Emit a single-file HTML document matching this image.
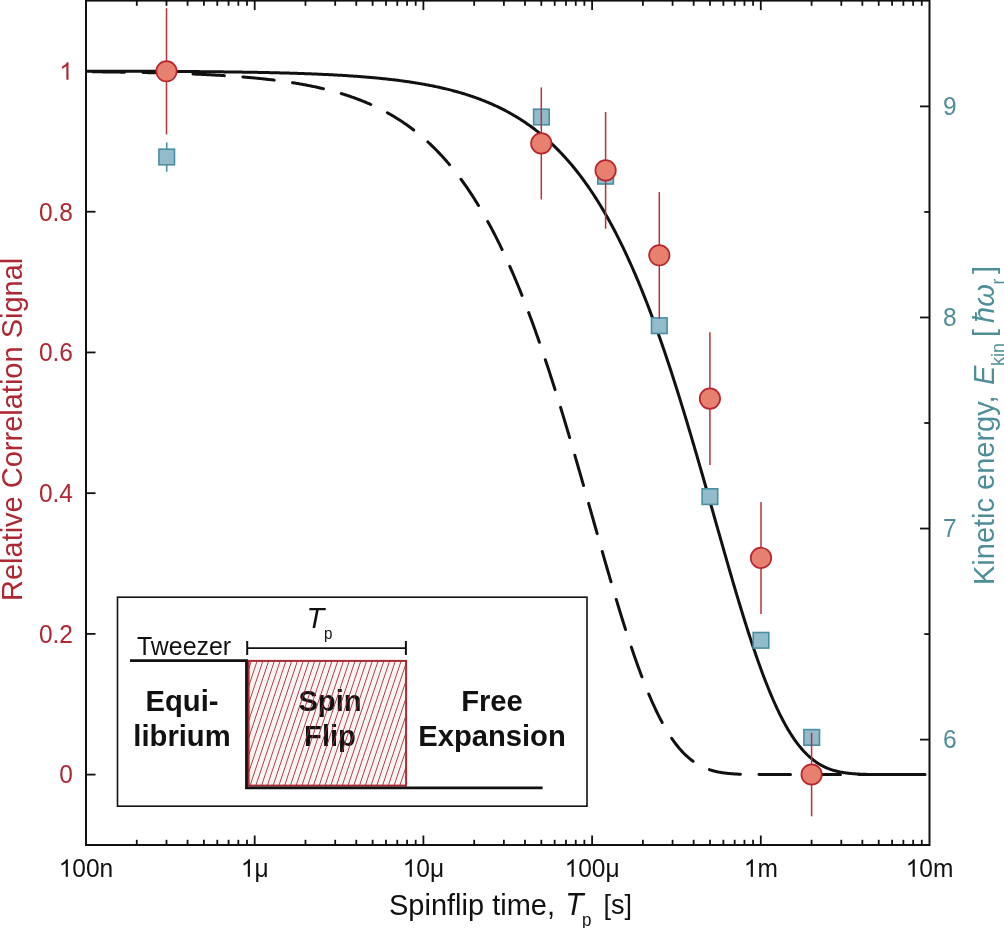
<!DOCTYPE html>
<html><head><meta charset="utf-8"><style>
html,body{margin:0;padding:0;background:#fff;}
svg{display:block;will-change:transform;}
text{font-family:"Liberation Sans",sans-serif;}
</style></head><body>
<svg width="1004" height="928" viewBox="0 0 1004 928">
<defs>
<pattern id="hatch" patternUnits="userSpaceOnUse" width="5.76" height="16" patternTransform="translate(248,661) skewX(-18.47)">
<line x1="3.34" y1="-1" x2="3.34" y2="17" stroke="#9c2f3b" stroke-width="0.9"/>
</pattern>
</defs>
<rect width="1004" height="928" fill="#fff"/>
<rect x="117.5" y="597.2" width="469.5" height="209" fill="none" stroke="#111" stroke-width="1.6"/>
<rect x="248.6" y="660.9" width="157.5" height="124.7" fill="#fff4f4"/>
<g font-size="29.2" font-weight="bold" fill="#111" text-anchor="middle"><text x="182.00" y="711.30" transform="matrix(1 0 0 1.04 0 -28.452)">Equi-</text><text x="182.00" y="746.30" transform="matrix(1 0 0 1.04 0 -29.852)">librium</text><text x="330.00" y="711.30" transform="matrix(1 0 0 1.04 0 -28.452)">Spin</text><text x="330.00" y="746.30" transform="matrix(1 0 0 1.04 0 -29.852)">Flip</text><text x="492.00" y="711.30" transform="matrix(1 0 0 1.04 0 -28.452)">Free</text><text x="492.00" y="746.30" transform="matrix(1 0 0 1.04 0 -29.852)">Expansion</text></g>
<rect x="248.6" y="660.9" width="157.5" height="124.7" fill="url(#hatch)" stroke="#a82a32" stroke-width="2"/>
<polyline points="130,660.7 246.5,660.7 246.5,787.9 542.6,787.9" fill="none" stroke="#111" stroke-width="2.8"/>
<g stroke="#111" stroke-width="1.6">
<line x1="247.2" y1="641" x2="247.2" y2="655" stroke-width="2"/>
<line x1="405.9" y1="641" x2="405.9" y2="655" stroke-width="2"/>
<line x1="247.2" y1="648.1" x2="405.9" y2="648.1"/>
</g>
<g font-size="24.9" fill="#111"><text x="137.00" y="654.80" transform="matrix(1 0 0 1.04 0 -26.192)">Tweezer</text></g>
<g fill="#111"><text x="306.50" y="628.50" transform="matrix(1 0 0 1.04 0 -25.140)" font-size="29" font-style="italic">T</text><text x="324.00" y="638.80" transform="matrix(1 0 0 1.04 0 -25.552)" font-size="15.2">p</text></g>
<path d="M87.00,71.71 L88.00,71.72 L89.00,71.73 L90.00,71.74 L91.00,71.75 L92.00,71.76 L93.00,71.77 L94.00,71.78 L95.00,71.80 L96.00,71.81 L97.00,71.82 L98.00,71.83 L99.00,71.84 L100.00,71.85 L101.00,71.86 L102.00,71.87 L103.00,71.89 L104.00,71.90 L105.00,71.91 L106.00,71.92 L107.00,71.94 L108.00,71.95 L109.00,71.96 L110.00,71.98 L111.00,71.99 L112.00,72.00 L113.00,72.02 L114.00,72.03 L115.00,72.04 L116.00,72.06 L117.00,72.07 L118.00,72.09 L119.00,72.10 L120.00,72.12 L121.00,72.13 L122.00,72.15 L123.00,72.16 L124.00,72.18 L125.00,72.20 L126.00,72.21 L127.00,72.23 L128.00,72.25 L129.00,72.26 L130.00,72.28 L131.00,72.30 L132.00,72.32 L133.00,72.34 L134.00,72.35 L135.00,72.37 L136.00,72.39 L137.00,72.41 L138.00,72.43 L139.00,72.45 L140.00,72.47 L141.00,72.49 L142.00,72.51 L143.00,72.53 L144.00,72.55 L145.00,72.57 L146.00,72.59 L147.00,72.62 L148.00,72.64 L149.00,72.66 L150.00,72.68 L151.00,72.71 L152.00,72.73 L153.00,72.75 L154.00,72.78 L155.00,72.80 L156.00,72.83 L157.00,72.85 L158.00,72.88 L159.00,72.90 L160.00,72.93 L161.00,72.96 L162.00,72.98 L163.00,73.01 L164.00,73.04 L165.00,73.07 L166.00,73.09 L167.00,73.12 L168.00,73.15 L169.00,73.18 L170.00,73.21 L171.00,73.24 L172.00,73.27 L173.00,73.30 L174.00,73.33 L175.00,73.37 L176.00,73.40 L177.00,73.43 L178.00,73.47 L179.00,73.50 L180.00,73.53 L181.00,73.57 L182.00,73.60 L183.00,73.64 L184.00,73.68 L185.00,73.71 L186.00,73.75 L187.00,73.79 L188.00,73.83 L189.00,73.86 L190.00,73.90 L191.00,73.94 L192.00,73.98 L193.00,74.02 L194.00,74.07 L195.00,74.11 L196.00,74.15 L197.00,74.19 L198.00,74.24 L199.00,74.28 L200.00,74.33 L201.00,74.37 L202.00,74.42 L203.00,74.47 L204.00,74.51 L205.00,74.56 L206.00,74.61 L207.00,74.66 L208.00,74.71 L209.00,74.76 L210.00,74.81 L211.00,74.86 L212.00,74.92 L213.00,74.97 L214.00,75.03 L215.00,75.08 L216.00,75.14 L217.00,75.19 L218.00,75.25 L219.00,75.31 L220.00,75.37 L221.00,75.43 L222.00,75.49 L223.00,75.55 L224.00,75.61 L225.00,75.68 L226.00,75.74 L227.00,75.80 L228.00,75.87 L229.00,75.94 L230.00,76.00 L231.00,76.07 L232.00,76.14 L233.00,76.21 L234.00,76.28 L235.00,76.36 L236.00,76.43 L237.00,76.50 L238.00,76.58 L239.00,76.66 L240.00,76.73 L241.00,76.81 L242.00,76.89 L243.00,76.97 L244.00,77.05 L245.00,77.14 L246.00,77.22 L247.00,77.31 L248.00,77.39 L249.00,77.48 L250.00,77.57 L251.00,77.66 L252.00,77.75 L253.00,77.84 L254.00,77.93 L255.00,78.03 L256.00,78.13 L257.00,78.22 L258.00,78.32 L259.00,78.42 L260.00,78.52 L261.00,78.63 L262.00,78.73 L263.00,78.84 L264.00,78.94 L265.00,79.05 L266.00,79.16 L267.00,79.27 L268.00,79.39 L269.00,79.50 L270.00,79.62 L271.00,79.73 L272.00,79.85 L273.00,79.97 L274.00,80.10 L275.00,80.22 L276.00,80.35 L277.00,80.47 L278.00,80.60 L279.00,80.74 L280.00,80.87 L281.00,81.00 L282.00,81.14 L283.00,81.28 L284.00,81.42 L285.00,81.56 L286.00,81.70 L287.00,81.85 L288.00,82.00 L289.00,82.15 L290.00,82.30 L291.00,82.45 L292.00,82.61 L293.00,82.77 L294.00,82.93 L295.00,83.09 L296.00,83.26 L297.00,83.42 L298.00,83.59 L299.00,83.76 L300.00,83.94 L301.00,84.11 L302.00,84.29 L303.00,84.47 L304.00,84.66 L305.00,84.84 L306.00,85.03 L307.00,85.22 L308.00,85.41 L309.00,85.61 L310.00,85.81 L311.00,86.01 L312.00,86.21 L313.00,86.42 L314.00,86.63 L315.00,86.84 L316.00,87.06 L317.00,87.28 L318.00,87.50 L319.00,87.72 L320.00,87.95 L321.00,88.18 L322.00,88.41 L323.00,88.65 L324.00,88.89 L325.00,89.13 L326.00,89.38 L327.00,89.62 L328.00,89.88 L329.00,90.13 L330.00,90.39 L331.00,90.65 L332.00,90.92 L333.00,91.19 L334.00,91.46 L335.00,91.74 L336.00,92.02 L337.00,92.31 L338.00,92.59 L339.00,92.89 L340.00,93.18 L341.00,93.48 L342.00,93.79 L343.00,94.09 L344.00,94.41 L345.00,94.72 L346.00,95.04 L347.00,95.37 L348.00,95.70 L349.00,96.03 L350.00,96.37 L351.00,96.71 L352.00,97.06 L353.00,97.41 L354.00,97.76 L355.00,98.12 L356.00,98.49 L357.00,98.86 L358.00,99.24 L359.00,99.62 L360.00,100.00 L361.00,100.39 L362.00,100.79 L363.00,101.19 L364.00,101.59 L365.00,102.00 L366.00,102.42 L367.00,102.84 L368.00,103.27 L369.00,103.70 L370.00,104.14 L371.00,104.58 L372.00,105.03 L373.00,105.49 L374.00,105.95 L375.00,106.42 L376.00,106.89 L377.00,107.38 L378.00,107.86 L379.00,108.35 L380.00,108.85 L381.00,109.36 L382.00,109.87 L383.00,110.39 L384.00,110.92 L385.00,111.45 L386.00,111.99 L387.00,112.53 L388.00,113.09 L389.00,113.65 L390.00,114.22 L391.00,114.79 L392.00,115.37 L393.00,115.96 L394.00,116.56 L395.00,117.17 L396.00,117.78 L397.00,118.40 L398.00,119.03 L399.00,119.67 L400.00,120.31 L401.00,120.96 L402.00,121.62 L403.00,122.29 L404.00,122.97 L405.00,123.66 L406.00,124.35 L407.00,125.06 L408.00,125.77 L409.00,126.49 L410.00,127.23 L411.00,127.97 L412.00,128.72 L413.00,129.48 L414.00,130.24 L415.00,131.02 L416.00,131.81 L417.00,132.61 L418.00,133.42 L419.00,134.23 L420.00,135.06 L421.00,135.90 L422.00,136.75 L423.00,137.61 L424.00,138.48 L425.00,139.36 L426.00,140.25 L427.00,141.15 L428.00,142.07 L429.00,142.99 L430.00,143.93 L431.00,144.88 L432.00,145.84 L433.00,146.81 L434.00,147.79 L435.00,148.78 L436.00,149.79 L437.00,150.81 L438.00,151.84 L439.00,152.89 L440.00,153.94 L441.00,155.01 L442.00,156.09 L443.00,157.19 L444.00,158.29 L445.00,159.42 L446.00,160.55 L447.00,161.70 L448.00,162.86 L449.00,164.03 L450.00,165.22 L451.00,166.43 L452.00,167.64 L453.00,168.87 L454.00,170.12 L455.00,171.38 L456.00,172.65 L457.00,173.94 L458.00,175.25 L459.00,176.57 L460.00,177.90 L461.00,179.25 L462.00,180.62 L463.00,182.00 L464.00,183.39 L465.00,184.81 L466.00,186.23 L467.00,187.68 L468.00,189.14 L469.00,190.62 L470.00,192.11 L471.00,193.62 L472.00,195.15 L473.00,196.69 L474.00,198.25 L475.00,199.83 L476.00,201.43 L477.00,203.04 L478.00,204.67 L479.00,206.32 L480.00,207.98 L481.00,209.67 L482.00,211.37 L483.00,213.09 L484.00,214.82 L485.00,216.58 L486.00,218.36 L487.00,220.15 L488.00,221.96 L489.00,223.79 L490.00,225.64 L491.00,227.51 L492.00,229.40 L493.00,231.31 L494.00,233.24 L495.00,235.18 L496.00,237.15 L497.00,239.13 L498.00,241.14 L499.00,243.17 L500.00,245.21 L501.00,247.28 L502.00,249.36 L503.00,251.47 L504.00,253.59 L505.00,255.74 L506.00,257.91 L507.00,260.10 L508.00,262.30 L509.00,264.53 L510.00,266.78 L511.00,269.05 L512.00,271.35 L513.00,273.66 L514.00,275.99 L515.00,278.35 L516.00,280.72 L517.00,283.12 L518.00,285.53 L519.00,287.97 L520.00,290.43 L521.00,292.91 L522.00,295.41 L523.00,297.94 L524.00,300.48 L525.00,303.05 L526.00,305.63 L527.00,308.24 L528.00,310.87 L529.00,313.52 L530.00,316.19 L531.00,318.88 L532.00,321.59 L533.00,324.32 L534.00,327.08 L535.00,329.85 L536.00,332.65 L537.00,335.46 L538.00,338.30 L539.00,341.15 L540.00,344.03 L541.00,346.93 L542.00,349.84 L543.00,352.78 L544.00,355.73 L545.00,358.71 L546.00,361.70 L547.00,364.71 L548.00,367.75 L549.00,370.80 L550.00,373.87 L551.00,376.96 L552.00,380.06 L553.00,383.19 L554.00,386.33 L555.00,389.49 L556.00,392.66 L557.00,395.86 L558.00,399.07 L559.00,402.29 L560.00,405.54 L561.00,408.79 L562.00,412.07 L563.00,415.36 L564.00,418.66 L565.00,421.98 L566.00,425.31 L567.00,428.65 L568.00,432.01 L569.00,435.39 L570.00,438.77 L571.00,442.17 L572.00,445.57 L573.00,448.99 L574.00,452.42 L575.00,455.86 L576.00,459.31 L577.00,462.77 L578.00,466.24 L579.00,469.71 L580.00,473.20 L581.00,476.69 L582.00,480.19 L583.00,483.69 L584.00,487.20 L585.00,490.71 L586.00,494.23 L587.00,497.76 L588.00,501.28 L589.00,504.81 L590.00,508.34 L591.00,511.87 L592.00,515.41 L593.00,518.94 L594.00,522.47 L595.00,526.00 L596.00,529.53 L597.00,533.06 L598.00,536.58 L599.00,540.10 L600.00,543.61 L601.00,547.12 L602.00,550.63 L603.00,554.12 L604.00,557.61 L605.00,561.09 L606.00,564.56 L607.00,568.02 L608.00,571.47 L609.00,574.91 L610.00,578.34 L611.00,581.75 L612.00,585.15 L613.00,588.53 L614.00,591.91 L615.00,595.26 L616.00,598.60 L617.00,601.92 L618.00,605.22 L619.00,608.50 L620.00,611.76 L621.00,615.01 L622.00,618.23 L623.00,621.43 L624.00,624.60 L625.00,627.75 L626.00,630.88 L627.00,633.99 L628.00,637.06 L629.00,640.11 L630.00,643.14 L631.00,646.13 L632.00,649.10 L633.00,652.04 L634.00,654.95 L635.00,657.83 L636.00,660.67 L637.00,663.49 L638.00,666.27 L639.00,669.02 L640.00,671.74 L641.00,674.42 L642.00,677.07 L643.00,679.68 L644.00,682.26 L645.00,684.80 L646.00,687.30 L647.00,689.77 L648.00,692.20 L649.00,694.60 L650.00,696.95 L651.00,699.27 L652.00,701.55 L653.00,703.78 L654.00,705.98 L655.00,708.14 L656.00,710.26 L657.00,712.35 L658.00,714.39 L659.00,716.39 L660.00,718.35 L661.00,720.27 L662.00,722.14 L663.00,723.98 L664.00,725.78 L665.00,727.54 L666.00,729.26 L667.00,730.93 L668.00,732.57 L669.00,734.17 L670.00,735.72 L671.00,737.24 L672.00,738.72 L673.00,740.15 L674.00,741.55 L675.00,742.91 L676.00,744.23 L677.00,745.52 L678.00,746.76 L679.00,747.97 L680.00,749.14 L681.00,750.28 L682.00,751.38 L683.00,752.44 L684.00,753.47 L685.00,754.46 L686.00,755.42 L687.00,756.35 L688.00,757.24 L689.00,758.10 L690.00,758.93 L691.00,759.73 L692.00,760.50 L693.00,761.24 L694.00,761.95 L695.00,762.63 L696.00,763.28 L697.00,763.90 L698.00,764.50 L699.00,765.07 L700.00,765.62 L701.00,766.14 L702.00,766.64 L703.00,767.12 L704.00,767.57 L705.00,768.00 L706.00,768.41 L707.00,768.80 L708.00,769.17 L709.00,769.52 L710.00,769.85 L711.00,770.17 L712.00,770.47 L713.00,770.75 L714.00,771.01 L715.00,771.27 L716.00,771.50 L717.00,771.72 L718.00,771.93 L719.00,772.13 L720.00,772.32 L721.00,772.49 L722.00,772.65 L723.00,772.80 L724.00,772.94 L725.00,773.08 L726.00,773.20 L727.00,773.31 L728.00,773.42 L729.00,773.52 L730.00,773.61 L731.00,773.70 L732.00,773.78 L733.00,773.85 L734.00,773.92 L735.00,773.98 L736.00,774.04 L737.00,774.09 L738.00,774.14 L739.00,774.18 L740.00,774.22 L741.00,774.26 L742.00,774.29 L743.00,774.32 L744.00,774.35 L745.00,774.38 L746.00,774.40 L747.00,774.42 L748.00,774.44 L749.00,774.46 L750.00,774.47 L751.00,774.49 L752.00,774.50 L753.00,774.51 L754.00,774.52 L755.00,774.53 L756.00,774.54 L757.00,774.55 L758.00,774.55 L759.00,774.56 L760.00,774.56 L761.00,774.57 L762.00,774.57 L763.00,774.58 L764.00,774.58 L765.00,774.58 L766.00,774.58 L767.00,774.59 L768.00,774.59 L769.00,774.59 L770.00,774.59 L771.00,774.59 L772.00,774.59 L773.00,774.59 L774.00,774.60 L775.00,774.60 L776.00,774.60 L777.00,774.60 L778.00,774.60 L779.00,774.60 L780.00,774.60 L781.00,774.60 L782.00,774.60 L783.00,774.60 L784.00,774.60 L785.00,774.60 L786.00,774.60 L787.00,774.60 L788.00,774.60 L789.00,774.60 L790.00,774.60 L791.00,774.60 L792.00,774.60 L793.00,774.60 L794.00,774.60 L795.00,774.60 L796.00,774.60 L797.00,774.60 L798.00,774.60 L799.00,774.60 L800.00,774.60 L801.00,774.60 L802.00,774.60 L803.00,774.60 L804.00,774.60 L805.00,774.60 L806.00,774.60 L807.00,774.60 L808.00,774.60 L809.00,774.60 L810.00,774.60 L811.00,774.60 L812.00,774.60 L813.00,774.60 L814.00,774.60 L815.00,774.60 L816.00,774.60 L817.00,774.60 L818.00,774.60 L819.00,774.60 L820.00,774.60 L821.00,774.60 L822.00,774.60 L823.00,774.60 L824.00,774.60 L825.00,774.60 L826.00,774.60 L827.00,774.60 L828.00,774.60 L829.00,774.60 L830.00,774.60 L831.00,774.60 L832.00,774.60 L833.00,774.60 L834.00,774.60 L835.00,774.60 L836.00,774.60 L837.00,774.60 L838.00,774.60 L839.00,774.60 L840.00,774.60 L841.00,774.60 L842.00,774.60 L843.00,774.60 L844.00,774.60 L845.00,774.60 L846.00,774.60 L847.00,774.60 L848.00,774.60 L849.00,774.60 L850.00,774.60 L851.00,774.60 L852.00,774.60 L853.00,774.60 L854.00,774.60 L855.00,774.60 L856.00,774.60 L857.00,774.60 L858.00,774.60 L859.00,774.60 L860.00,774.60 L861.00,774.60 L862.00,774.60 L863.00,774.60 L864.00,774.60 L865.00,774.60 L866.00,774.60 L867.00,774.60 L868.00,774.60 L869.00,774.60 L870.00,774.60 L871.00,774.60 L872.00,774.60 L873.00,774.60 L874.00,774.60 L875.00,774.60 L876.00,774.60 L877.00,774.60 L878.00,774.60 L879.00,774.60 L880.00,774.60 L881.00,774.60 L882.00,774.60 L883.00,774.60 L884.00,774.60 L885.00,774.60 L886.00,774.60 L887.00,774.60 L888.00,774.60 L889.00,774.60 L890.00,774.60 L891.00,774.60 L892.00,774.60 L893.00,774.60 L894.00,774.60 L895.00,774.60 L896.00,774.60 L897.00,774.60 L898.00,774.60 L899.00,774.60 L900.00,774.60 L901.00,774.60 L902.00,774.60 L903.00,774.60 L904.00,774.60 L905.00,774.60 L906.00,774.60 L907.00,774.60 L908.00,774.60 L909.00,774.60 L910.00,774.60 L911.00,774.60 L912.00,774.60 L913.00,774.60 L914.00,774.60 L915.00,774.60 L916.00,774.60 L917.00,774.60 L918.00,774.60 L919.00,774.60 L920.00,774.60 L921.00,774.60 L922.00,774.60 L923.00,774.60 L924.00,774.60 L925.00,774.60" fill="none" stroke="#111" stroke-width="3" stroke-dasharray="31.5 18.5" stroke-dashoffset="44" stroke-linecap="round"/>
<path d="M87.00,71.14 L88.00,71.14 L89.00,71.14 L90.00,71.14 L91.00,71.14 L92.00,71.14 L93.00,71.15 L94.00,71.15 L95.00,71.15 L96.00,71.15 L97.00,71.15 L98.00,71.16 L99.00,71.16 L100.00,71.16 L101.00,71.16 L102.00,71.17 L103.00,71.17 L104.00,71.17 L105.00,71.17 L106.00,71.18 L107.00,71.18 L108.00,71.18 L109.00,71.18 L110.00,71.18 L111.00,71.19 L112.00,71.19 L113.00,71.19 L114.00,71.20 L115.00,71.20 L116.00,71.20 L117.00,71.20 L118.00,71.21 L119.00,71.21 L120.00,71.21 L121.00,71.21 L122.00,71.22 L123.00,71.22 L124.00,71.22 L125.00,71.23 L126.00,71.23 L127.00,71.23 L128.00,71.24 L129.00,71.24 L130.00,71.24 L131.00,71.25 L132.00,71.25 L133.00,71.25 L134.00,71.26 L135.00,71.26 L136.00,71.26 L137.00,71.27 L138.00,71.27 L139.00,71.27 L140.00,71.28 L141.00,71.28 L142.00,71.29 L143.00,71.29 L144.00,71.29 L145.00,71.30 L146.00,71.30 L147.00,71.31 L148.00,71.31 L149.00,71.31 L150.00,71.32 L151.00,71.32 L152.00,71.33 L153.00,71.33 L154.00,71.34 L155.00,71.34 L156.00,71.35 L157.00,71.35 L158.00,71.36 L159.00,71.36 L160.00,71.37 L161.00,71.37 L162.00,71.38 L163.00,71.38 L164.00,71.39 L165.00,71.39 L166.00,71.40 L167.00,71.40 L168.00,71.41 L169.00,71.41 L170.00,71.42 L171.00,71.43 L172.00,71.43 L173.00,71.44 L174.00,71.44 L175.00,71.45 L176.00,71.46 L177.00,71.46 L178.00,71.47 L179.00,71.47 L180.00,71.48 L181.00,71.49 L182.00,71.49 L183.00,71.50 L184.00,71.51 L185.00,71.51 L186.00,71.52 L187.00,71.53 L188.00,71.54 L189.00,71.54 L190.00,71.55 L191.00,71.56 L192.00,71.57 L193.00,71.57 L194.00,71.58 L195.00,71.59 L196.00,71.60 L197.00,71.61 L198.00,71.61 L199.00,71.62 L200.00,71.63 L201.00,71.64 L202.00,71.65 L203.00,71.66 L204.00,71.67 L205.00,71.68 L206.00,71.69 L207.00,71.69 L208.00,71.70 L209.00,71.71 L210.00,71.72 L211.00,71.73 L212.00,71.74 L213.00,71.75 L214.00,71.76 L215.00,71.77 L216.00,71.79 L217.00,71.80 L218.00,71.81 L219.00,71.82 L220.00,71.83 L221.00,71.84 L222.00,71.85 L223.00,71.86 L224.00,71.88 L225.00,71.89 L226.00,71.90 L227.00,71.91 L228.00,71.92 L229.00,71.94 L230.00,71.95 L231.00,71.96 L232.00,71.98 L233.00,71.99 L234.00,72.00 L235.00,72.02 L236.00,72.03 L237.00,72.05 L238.00,72.06 L239.00,72.07 L240.00,72.09 L241.00,72.10 L242.00,72.12 L243.00,72.13 L244.00,72.15 L245.00,72.17 L246.00,72.18 L247.00,72.20 L248.00,72.22 L249.00,72.23 L250.00,72.25 L251.00,72.27 L252.00,72.28 L253.00,72.30 L254.00,72.32 L255.00,72.34 L256.00,72.36 L257.00,72.37 L258.00,72.39 L259.00,72.41 L260.00,72.43 L261.00,72.45 L262.00,72.47 L263.00,72.49 L264.00,72.51 L265.00,72.53 L266.00,72.55 L267.00,72.57 L268.00,72.60 L269.00,72.62 L270.00,72.64 L271.00,72.66 L272.00,72.69 L273.00,72.71 L274.00,72.73 L275.00,72.76 L276.00,72.78 L277.00,72.80 L278.00,72.83 L279.00,72.85 L280.00,72.88 L281.00,72.91 L282.00,72.93 L283.00,72.96 L284.00,72.98 L285.00,73.01 L286.00,73.04 L287.00,73.07 L288.00,73.10 L289.00,73.12 L290.00,73.15 L291.00,73.18 L292.00,73.21 L293.00,73.24 L294.00,73.27 L295.00,73.31 L296.00,73.34 L297.00,73.37 L298.00,73.40 L299.00,73.44 L300.00,73.47 L301.00,73.50 L302.00,73.54 L303.00,73.57 L304.00,73.61 L305.00,73.64 L306.00,73.68 L307.00,73.72 L308.00,73.75 L309.00,73.79 L310.00,73.83 L311.00,73.87 L312.00,73.91 L313.00,73.95 L314.00,73.99 L315.00,74.03 L316.00,74.07 L317.00,74.11 L318.00,74.15 L319.00,74.20 L320.00,74.24 L321.00,74.29 L322.00,74.33 L323.00,74.38 L324.00,74.42 L325.00,74.47 L326.00,74.52 L327.00,74.57 L328.00,74.61 L329.00,74.66 L330.00,74.71 L331.00,74.77 L332.00,74.82 L333.00,74.87 L334.00,74.92 L335.00,74.98 L336.00,75.03 L337.00,75.09 L338.00,75.14 L339.00,75.20 L340.00,75.26 L341.00,75.31 L342.00,75.37 L343.00,75.43 L344.00,75.49 L345.00,75.56 L346.00,75.62 L347.00,75.68 L348.00,75.75 L349.00,75.81 L350.00,75.88 L351.00,75.94 L352.00,76.01 L353.00,76.08 L354.00,76.15 L355.00,76.22 L356.00,76.29 L357.00,76.36 L358.00,76.44 L359.00,76.51 L360.00,76.59 L361.00,76.66 L362.00,76.74 L363.00,76.82 L364.00,76.90 L365.00,76.98 L366.00,77.06 L367.00,77.14 L368.00,77.23 L369.00,77.31 L370.00,77.40 L371.00,77.49 L372.00,77.58 L373.00,77.67 L374.00,77.76 L375.00,77.85 L376.00,77.94 L377.00,78.04 L378.00,78.13 L379.00,78.23 L380.00,78.33 L381.00,78.43 L382.00,78.53 L383.00,78.64 L384.00,78.74 L385.00,78.85 L386.00,78.95 L387.00,79.06 L388.00,79.17 L389.00,79.28 L390.00,79.40 L391.00,79.51 L392.00,79.63 L393.00,79.75 L394.00,79.86 L395.00,79.99 L396.00,80.11 L397.00,80.23 L398.00,80.36 L399.00,80.49 L400.00,80.62 L401.00,80.75 L402.00,80.88 L403.00,81.02 L404.00,81.15 L405.00,81.29 L406.00,81.43 L407.00,81.57 L408.00,81.72 L409.00,81.86 L410.00,82.01 L411.00,82.16 L412.00,82.31 L413.00,82.47 L414.00,82.62 L415.00,82.78 L416.00,82.94 L417.00,83.11 L418.00,83.27 L419.00,83.44 L420.00,83.61 L421.00,83.78 L422.00,83.95 L423.00,84.13 L424.00,84.31 L425.00,84.49 L426.00,84.67 L427.00,84.86 L428.00,85.05 L429.00,85.24 L430.00,85.43 L431.00,85.63 L432.00,85.83 L433.00,86.03 L434.00,86.23 L435.00,86.44 L436.00,86.65 L437.00,86.86 L438.00,87.08 L439.00,87.30 L440.00,87.52 L441.00,87.74 L442.00,87.97 L443.00,88.20 L444.00,88.43 L445.00,88.67 L446.00,88.91 L447.00,89.15 L448.00,89.40 L449.00,89.65 L450.00,89.90 L451.00,90.16 L452.00,90.42 L453.00,90.68 L454.00,90.95 L455.00,91.22 L456.00,91.49 L457.00,91.77 L458.00,92.05 L459.00,92.33 L460.00,92.62 L461.00,92.91 L462.00,93.21 L463.00,93.51 L464.00,93.81 L465.00,94.12 L466.00,94.44 L467.00,94.75 L468.00,95.07 L469.00,95.40 L470.00,95.73 L471.00,96.06 L472.00,96.40 L473.00,96.74 L474.00,97.09 L475.00,97.44 L476.00,97.80 L477.00,98.16 L478.00,98.52 L479.00,98.89 L480.00,99.27 L481.00,99.65 L482.00,100.04 L483.00,100.43 L484.00,100.82 L485.00,101.22 L486.00,101.63 L487.00,102.04 L488.00,102.46 L489.00,102.88 L490.00,103.31 L491.00,103.74 L492.00,104.18 L493.00,104.63 L494.00,105.08 L495.00,105.53 L496.00,106.00 L497.00,106.46 L498.00,106.94 L499.00,107.42 L500.00,107.91 L501.00,108.40 L502.00,108.90 L503.00,109.41 L504.00,109.92 L505.00,110.44 L506.00,110.97 L507.00,111.50 L508.00,112.04 L509.00,112.59 L510.00,113.14 L511.00,113.70 L512.00,114.27 L513.00,114.84 L514.00,115.43 L515.00,116.02 L516.00,116.62 L517.00,117.22 L518.00,117.84 L519.00,118.46 L520.00,119.09 L521.00,119.72 L522.00,120.37 L523.00,121.02 L524.00,121.69 L525.00,122.36 L526.00,123.03 L527.00,123.72 L528.00,124.42 L529.00,125.12 L530.00,125.84 L531.00,126.56 L532.00,127.29 L533.00,128.03 L534.00,128.79 L535.00,129.55 L536.00,130.32 L537.00,131.09 L538.00,131.88 L539.00,132.68 L540.00,133.49 L541.00,134.31 L542.00,135.14 L543.00,135.98 L544.00,136.83 L545.00,137.69 L546.00,138.56 L547.00,139.44 L548.00,140.33 L549.00,141.24 L550.00,142.15 L551.00,143.08 L552.00,144.02 L553.00,144.96 L554.00,145.93 L555.00,146.90 L556.00,147.88 L557.00,148.88 L558.00,149.88 L559.00,150.90 L560.00,151.94 L561.00,152.98 L562.00,154.04 L563.00,155.11 L564.00,156.19 L565.00,157.29 L566.00,158.40 L567.00,159.52 L568.00,160.65 L569.00,161.80 L570.00,162.97 L571.00,164.14 L572.00,165.33 L573.00,166.54 L574.00,167.75 L575.00,168.99 L576.00,170.23 L577.00,171.50 L578.00,172.77 L579.00,174.06 L580.00,175.37 L581.00,176.69 L582.00,178.02 L583.00,179.38 L584.00,180.74 L585.00,182.13 L586.00,183.52 L587.00,184.94 L588.00,186.37 L589.00,187.81 L590.00,189.27 L591.00,190.75 L592.00,192.25 L593.00,193.76 L594.00,195.29 L595.00,196.83 L596.00,198.40 L597.00,199.98 L598.00,201.57 L599.00,203.19 L600.00,204.82 L601.00,206.47 L602.00,208.14 L603.00,209.82 L604.00,211.52 L605.00,213.25 L606.00,214.98 L607.00,216.74 L608.00,218.52 L609.00,220.31 L610.00,222.13 L611.00,223.96 L612.00,225.81 L613.00,227.68 L614.00,229.57 L615.00,231.48 L616.00,233.41 L617.00,235.36 L618.00,237.33 L619.00,239.32 L620.00,241.32 L621.00,243.35 L622.00,245.40 L623.00,247.47 L624.00,249.55 L625.00,251.66 L626.00,253.79 L627.00,255.94 L628.00,258.11 L629.00,260.30 L630.00,262.51 L631.00,264.74 L632.00,266.99 L633.00,269.26 L634.00,271.56 L635.00,273.87 L636.00,276.21 L637.00,278.56 L638.00,280.94 L639.00,283.34 L640.00,285.76 L641.00,288.20 L642.00,290.66 L643.00,293.14 L644.00,295.64 L645.00,298.17 L646.00,300.72 L647.00,303.28 L648.00,305.87 L649.00,308.48 L650.00,311.11 L651.00,313.76 L652.00,316.43 L653.00,319.13 L654.00,321.84 L655.00,324.58 L656.00,327.33 L657.00,330.11 L658.00,332.90 L659.00,335.72 L660.00,338.56 L661.00,341.42 L662.00,344.29 L663.00,347.19 L664.00,350.11 L665.00,353.05 L666.00,356.00 L667.00,358.98 L668.00,361.98 L669.00,364.99 L670.00,368.03 L671.00,371.08 L672.00,374.15 L673.00,377.24 L674.00,380.35 L675.00,383.47 L676.00,386.62 L677.00,389.78 L678.00,392.96 L679.00,396.15 L680.00,399.36 L681.00,402.59 L682.00,405.83 L683.00,409.09 L684.00,412.37 L685.00,415.66 L686.00,418.96 L687.00,422.28 L688.00,425.62 L689.00,428.96 L690.00,432.32 L691.00,435.69 L692.00,439.08 L693.00,442.48 L694.00,445.89 L695.00,449.31 L696.00,452.74 L697.00,456.18 L698.00,459.63 L699.00,463.09 L700.00,466.56 L701.00,470.03 L702.00,473.52 L703.00,477.01 L704.00,480.51 L705.00,484.01 L706.00,487.52 L707.00,491.04 L708.00,494.56 L709.00,498.08 L710.00,501.61 L711.00,505.13 L712.00,508.67 L713.00,512.20 L714.00,515.73 L715.00,519.26 L716.00,522.80 L717.00,526.33 L718.00,529.86 L719.00,533.38 L720.00,536.90 L721.00,540.42 L722.00,543.94 L723.00,547.44 L724.00,550.95 L725.00,554.44 L726.00,557.93 L727.00,561.41 L728.00,564.88 L729.00,568.34 L730.00,571.79 L731.00,575.22 L732.00,578.65 L733.00,582.06 L734.00,585.46 L735.00,588.84 L736.00,592.21 L737.00,595.57 L738.00,598.90 L739.00,602.22 L740.00,605.52 L741.00,608.80 L742.00,612.06 L743.00,615.30 L744.00,618.52 L745.00,621.72 L746.00,624.89 L747.00,628.04 L748.00,631.17 L749.00,634.27 L750.00,637.34 L751.00,640.39 L752.00,643.41 L753.00,646.41 L754.00,649.37 L755.00,652.31 L756.00,655.21 L757.00,658.09 L758.00,660.93 L759.00,663.74 L760.00,666.52 L761.00,669.27 L762.00,671.98 L763.00,674.66 L764.00,677.31 L765.00,679.92 L766.00,682.49 L767.00,685.03 L768.00,687.53 L769.00,690.00 L770.00,692.42 L771.00,694.81 L772.00,697.16 L773.00,699.48 L774.00,701.75 L775.00,703.99 L776.00,706.18 L777.00,708.34 L778.00,710.46 L779.00,712.53 L780.00,714.57 L781.00,716.57 L782.00,718.52 L783.00,720.44 L784.00,722.31 L785.00,724.15 L786.00,725.94 L787.00,727.70 L788.00,729.41 L789.00,731.08 L790.00,732.72 L791.00,734.31 L792.00,735.86 L793.00,737.38 L794.00,738.85 L795.00,740.28 L796.00,741.68 L797.00,743.04 L798.00,744.35 L799.00,745.63 L800.00,746.88 L801.00,748.08 L802.00,749.25 L803.00,750.38 L804.00,751.48 L805.00,752.54 L806.00,753.56 L807.00,754.55 L808.00,755.51 L809.00,756.43 L810.00,757.32 L811.00,758.18 L812.00,759.01 L813.00,759.80 L814.00,760.57 L815.00,761.30 L816.00,762.01 L817.00,762.69 L818.00,763.34 L819.00,763.96 L820.00,764.55 L821.00,765.12 L822.00,765.67 L823.00,766.19 L824.00,766.68 L825.00,767.16 L826.00,767.61 L827.00,768.04 L828.00,768.45 L829.00,768.83 L830.00,769.20 L831.00,769.55 L832.00,769.88 L833.00,770.20 L834.00,770.49 L835.00,770.77 L836.00,771.04 L837.00,771.29 L838.00,771.52 L839.00,771.74 L840.00,771.95 L841.00,772.15 L842.00,772.33 L843.00,772.50 L844.00,772.66 L845.00,772.82 L846.00,772.96 L847.00,773.09 L848.00,773.21 L849.00,773.32 L850.00,773.43 L851.00,773.53 L852.00,773.62 L853.00,773.70 L854.00,773.78 L855.00,773.86 L856.00,773.92 L857.00,773.98 L858.00,774.04 L859.00,774.09 L860.00,774.14 L861.00,774.18 L862.00,774.23 L863.00,774.26 L864.00,774.30 L865.00,774.33 L866.00,774.35 L867.00,774.38 L868.00,774.40 L869.00,774.42 L870.00,774.44 L871.00,774.46 L872.00,774.48 L873.00,774.49 L874.00,774.50 L875.00,774.51 L876.00,774.52 L877.00,774.53 L878.00,774.54 L879.00,774.55 L880.00,774.55 L881.00,774.56 L882.00,774.56 L883.00,774.57 L884.00,774.57 L885.00,774.58 L886.00,774.58 L887.00,774.58 L888.00,774.58 L889.00,774.59 L890.00,774.59 L891.00,774.59 L892.00,774.59 L893.00,774.59 L894.00,774.59 L895.00,774.59 L896.00,774.60 L897.00,774.60 L898.00,774.60 L899.00,774.60 L900.00,774.60 L901.00,774.60 L902.00,774.60 L903.00,774.60 L904.00,774.60 L905.00,774.60 L906.00,774.60 L907.00,774.60 L908.00,774.60 L909.00,774.60 L910.00,774.60 L911.00,774.60 L912.00,774.60 L913.00,774.60 L914.00,774.60 L915.00,774.60 L916.00,774.60 L917.00,774.60 L918.00,774.60 L919.00,774.60 L920.00,774.60 L921.00,774.60 L922.00,774.60 L923.00,774.60 L924.00,774.60 L925.00,774.60" fill="none" stroke="#111" stroke-width="3"/>
<g fill="#92bccb" stroke="#4a8fa0" stroke-width="1.6"><line x1="166.7" y1="142.4" x2="166.7" y2="171.7" stroke="#4a8fa0" stroke-width="1.6"/><rect x="158.90" y="149.20" width="15.6" height="15.6"/><rect x="533.60" y="109.20" width="15.6" height="15.6"/><rect x="597.80" y="168.40" width="15.6" height="15.6"/><rect x="651.50" y="317.90" width="15.6" height="15.6"/><rect x="702.10" y="488.80" width="15.6" height="15.6"/><rect x="753.20" y="632.50" width="15.6" height="15.6"/><rect x="803.90" y="729.60" width="15.6" height="15.6"/></g>
<g stroke="#b83238" stroke-width="1.5"><line x1="166.5" y1="8.20" x2="166.5" y2="134.40"/><line x1="541.3" y1="87.40" x2="541.3" y2="199.40"/><line x1="605.6" y1="112.00" x2="605.6" y2="228.80"/><line x1="659.3" y1="192.10" x2="659.3" y2="318.50"/><line x1="709.9" y1="332.30" x2="709.9" y2="464.90"/><line x1="761.0" y1="501.90" x2="761.0" y2="613.90"/><line x1="811.6" y1="732.70" x2="811.6" y2="816.30"/></g>
<g fill="#e8806f" stroke="#b8262d" stroke-width="1.7"><circle cx="166.5" cy="71.3" r="10.2"/><circle cx="541.3" cy="143.4" r="10.2"/><circle cx="605.6" cy="170.4" r="10.2"/><circle cx="659.3" cy="255.3" r="10.2"/><circle cx="709.9" cy="398.6" r="10.2"/><circle cx="761.0" cy="557.9" r="10.2"/><circle cx="811.6" cy="774.5" r="10.2"/></g>
<rect x="86.0" y="0.6" width="843.5" height="844.4" fill="none" stroke="#111" stroke-width="2"/>
<g stroke="#111" stroke-width="1.8"><line x1="136.78" y1="845.0" x2="136.78" y2="839.8"/><line x1="136.78" y1="0.6" x2="136.78" y2="5.8"/><line x1="166.49" y1="845.0" x2="166.49" y2="839.8"/><line x1="166.49" y1="0.6" x2="166.49" y2="5.8"/><line x1="187.57" y1="845.0" x2="187.57" y2="839.8"/><line x1="187.57" y1="0.6" x2="187.57" y2="5.8"/><line x1="203.92" y1="845.0" x2="203.92" y2="839.8"/><line x1="203.92" y1="0.6" x2="203.92" y2="5.8"/><line x1="217.27" y1="845.0" x2="217.27" y2="839.8"/><line x1="217.27" y1="0.6" x2="217.27" y2="5.8"/><line x1="228.57" y1="845.0" x2="228.57" y2="839.8"/><line x1="228.57" y1="0.6" x2="228.57" y2="5.8"/><line x1="238.35" y1="845.0" x2="238.35" y2="839.8"/><line x1="238.35" y1="0.6" x2="238.35" y2="5.8"/><line x1="246.98" y1="845.0" x2="246.98" y2="839.8"/><line x1="246.98" y1="0.6" x2="246.98" y2="5.8"/><line x1="254.70" y1="845.0" x2="254.70" y2="835.5"/><line x1="254.70" y1="0.6" x2="254.70" y2="10.1"/><line x1="305.48" y1="845.0" x2="305.48" y2="839.8"/><line x1="305.48" y1="0.6" x2="305.48" y2="5.8"/><line x1="335.19" y1="845.0" x2="335.19" y2="839.8"/><line x1="335.19" y1="0.6" x2="335.19" y2="5.8"/><line x1="356.27" y1="845.0" x2="356.27" y2="839.8"/><line x1="356.27" y1="0.6" x2="356.27" y2="5.8"/><line x1="372.62" y1="845.0" x2="372.62" y2="839.8"/><line x1="372.62" y1="0.6" x2="372.62" y2="5.8"/><line x1="385.97" y1="845.0" x2="385.97" y2="839.8"/><line x1="385.97" y1="0.6" x2="385.97" y2="5.8"/><line x1="397.27" y1="845.0" x2="397.27" y2="839.8"/><line x1="397.27" y1="0.6" x2="397.27" y2="5.8"/><line x1="407.05" y1="845.0" x2="407.05" y2="839.8"/><line x1="407.05" y1="0.6" x2="407.05" y2="5.8"/><line x1="415.68" y1="845.0" x2="415.68" y2="839.8"/><line x1="415.68" y1="0.6" x2="415.68" y2="5.8"/><line x1="423.40" y1="845.0" x2="423.40" y2="835.5"/><line x1="423.40" y1="0.6" x2="423.40" y2="10.1"/><line x1="474.18" y1="845.0" x2="474.18" y2="839.8"/><line x1="474.18" y1="0.6" x2="474.18" y2="5.8"/><line x1="503.89" y1="845.0" x2="503.89" y2="839.8"/><line x1="503.89" y1="0.6" x2="503.89" y2="5.8"/><line x1="524.97" y1="845.0" x2="524.97" y2="839.8"/><line x1="524.97" y1="0.6" x2="524.97" y2="5.8"/><line x1="541.32" y1="845.0" x2="541.32" y2="839.8"/><line x1="541.32" y1="0.6" x2="541.32" y2="5.8"/><line x1="554.67" y1="845.0" x2="554.67" y2="839.8"/><line x1="554.67" y1="0.6" x2="554.67" y2="5.8"/><line x1="565.97" y1="845.0" x2="565.97" y2="839.8"/><line x1="565.97" y1="0.6" x2="565.97" y2="5.8"/><line x1="575.75" y1="845.0" x2="575.75" y2="839.8"/><line x1="575.75" y1="0.6" x2="575.75" y2="5.8"/><line x1="584.38" y1="845.0" x2="584.38" y2="839.8"/><line x1="584.38" y1="0.6" x2="584.38" y2="5.8"/><line x1="592.10" y1="845.0" x2="592.10" y2="835.5"/><line x1="592.10" y1="0.6" x2="592.10" y2="10.1"/><line x1="642.88" y1="845.0" x2="642.88" y2="839.8"/><line x1="642.88" y1="0.6" x2="642.88" y2="5.8"/><line x1="672.59" y1="845.0" x2="672.59" y2="839.8"/><line x1="672.59" y1="0.6" x2="672.59" y2="5.8"/><line x1="693.67" y1="845.0" x2="693.67" y2="839.8"/><line x1="693.67" y1="0.6" x2="693.67" y2="5.8"/><line x1="710.02" y1="845.0" x2="710.02" y2="839.8"/><line x1="710.02" y1="0.6" x2="710.02" y2="5.8"/><line x1="723.37" y1="845.0" x2="723.37" y2="839.8"/><line x1="723.37" y1="0.6" x2="723.37" y2="5.8"/><line x1="734.67" y1="845.0" x2="734.67" y2="839.8"/><line x1="734.67" y1="0.6" x2="734.67" y2="5.8"/><line x1="744.45" y1="845.0" x2="744.45" y2="839.8"/><line x1="744.45" y1="0.6" x2="744.45" y2="5.8"/><line x1="753.08" y1="845.0" x2="753.08" y2="839.8"/><line x1="753.08" y1="0.6" x2="753.08" y2="5.8"/><line x1="760.80" y1="845.0" x2="760.80" y2="835.5"/><line x1="760.80" y1="0.6" x2="760.80" y2="10.1"/><line x1="811.58" y1="845.0" x2="811.58" y2="839.8"/><line x1="811.58" y1="0.6" x2="811.58" y2="5.8"/><line x1="841.29" y1="845.0" x2="841.29" y2="839.8"/><line x1="841.29" y1="0.6" x2="841.29" y2="5.8"/><line x1="862.37" y1="845.0" x2="862.37" y2="839.8"/><line x1="862.37" y1="0.6" x2="862.37" y2="5.8"/><line x1="878.72" y1="845.0" x2="878.72" y2="839.8"/><line x1="878.72" y1="0.6" x2="878.72" y2="5.8"/><line x1="892.07" y1="845.0" x2="892.07" y2="839.8"/><line x1="892.07" y1="0.6" x2="892.07" y2="5.8"/><line x1="903.37" y1="845.0" x2="903.37" y2="839.8"/><line x1="903.37" y1="0.6" x2="903.37" y2="5.8"/><line x1="913.15" y1="845.0" x2="913.15" y2="839.8"/><line x1="913.15" y1="0.6" x2="913.15" y2="5.8"/><line x1="921.78" y1="845.0" x2="921.78" y2="839.8"/><line x1="921.78" y1="0.6" x2="921.78" y2="5.8"/><line x1="86.0" y1="774.60" x2="95.5" y2="774.60"/><line x1="86.0" y1="633.88" x2="95.5" y2="633.88"/><line x1="86.0" y1="493.16" x2="95.5" y2="493.16"/><line x1="86.0" y1="352.44" x2="95.5" y2="352.44"/><line x1="86.0" y1="211.72" x2="95.5" y2="211.72"/><line x1="86.0" y1="71.00" x2="95.5" y2="71.00"/><line x1="929.5" y1="739.61" x2="920.0" y2="739.61"/><line x1="929.5" y1="634.07" x2="924.3" y2="634.07"/><line x1="929.5" y1="528.54" x2="920.0" y2="528.54"/><line x1="929.5" y1="423.00" x2="924.3" y2="423.00"/><line x1="929.5" y1="317.47" x2="920.0" y2="317.47"/><line x1="929.5" y1="211.94" x2="924.3" y2="211.94"/><line x1="929.5" y1="106.40" x2="920.0" y2="106.40"/></g>
<g font-size="24.5"><text x="58.75" y="876.70" transform="matrix(1 0 0 1.04 0 -35.068)" fill="#111">100n</text><rect x="59.89" y="858.04" width="12.08" height="20.22" fill="#fff"/><path d="M763 0 L583 0 L583 1147 C540 1106 483 1064 413 1023 C342 982 279 951 223 930 L223 1104 C324 1151 412 1209 487 1276 C562 1343 615 1408 646 1466 L763 1466 Z" fill="#111" transform="matrix(0.01196 0 0 -0.01196 58.75 876.70)"/><text x="240.83" y="876.70" transform="matrix(1 0 0 1.04 0 -35.068)" fill="#111">1μ</text><rect x="241.97" y="858.04" width="12.08" height="20.22" fill="#fff"/><path d="M763 0 L583 0 L583 1147 C540 1106 483 1064 413 1023 C342 982 279 951 223 930 L223 1104 C324 1151 412 1209 487 1276 C562 1343 615 1408 646 1466 L763 1466 Z" fill="#111" transform="matrix(0.01196 0 0 -0.01196 240.83 876.70)"/><text x="402.72" y="876.70" transform="matrix(1 0 0 1.04 0 -35.068)" fill="#111">10μ</text><rect x="403.85" y="858.04" width="12.08" height="20.22" fill="#fff"/><path d="M763 0 L583 0 L583 1147 C540 1106 483 1064 413 1023 C342 982 279 951 223 930 L223 1104 C324 1151 412 1209 487 1276 C562 1343 615 1408 646 1466 L763 1466 Z" fill="#111" transform="matrix(0.01196 0 0 -0.01196 402.72 876.70)"/><text x="564.60" y="876.70" transform="matrix(1 0 0 1.04 0 -35.068)" fill="#111">100μ</text><rect x="565.74" y="858.04" width="12.08" height="20.22" fill="#fff"/><path d="M763 0 L583 0 L583 1147 C540 1106 483 1064 413 1023 C342 982 279 951 223 930 L223 1104 C324 1151 412 1209 487 1276 C562 1343 615 1408 646 1466 L763 1466 Z" fill="#111" transform="matrix(0.01196 0 0 -0.01196 564.60 876.70)"/><text x="743.78" y="876.70" transform="matrix(1 0 0 1.04 0 -35.068)" fill="#111">1m</text><rect x="744.92" y="858.04" width="12.08" height="20.22" fill="#fff"/><path d="M763 0 L583 0 L583 1147 C540 1106 483 1064 413 1023 C342 982 279 951 223 930 L223 1104 C324 1151 412 1209 487 1276 C562 1343 615 1408 646 1466 L763 1466 Z" fill="#111" transform="matrix(0.01196 0 0 -0.01196 743.78 876.70)"/><text x="905.67" y="876.70" transform="matrix(1 0 0 1.04 0 -35.068)" fill="#111">10m</text><rect x="906.81" y="858.04" width="12.08" height="20.22" fill="#fff"/><path d="M763 0 L583 0 L583 1147 C540 1106 483 1064 413 1023 C342 982 279 951 223 930 L223 1104 C324 1151 412 1209 487 1276 C562 1343 615 1408 646 1466 L763 1466 Z" fill="#111" transform="matrix(0.01196 0 0 -0.01196 905.67 876.70)"/><text x="59.37" y="783.40" transform="matrix(1 0 0 1.04 0 -31.336)" fill="#ad2833">0</text><text x="38.94" y="642.68" transform="matrix(1 0 0 1.04 0 -25.707)" fill="#ad2833">0.2</text><text x="38.94" y="501.96" transform="matrix(1 0 0 1.04 0 -20.078)" fill="#ad2833">0.4</text><text x="38.94" y="361.24" transform="matrix(1 0 0 1.04 0 -14.450)" fill="#ad2833">0.6</text><text x="38.94" y="220.52" transform="matrix(1 0 0 1.04 0 -8.821)" fill="#ad2833">0.8</text><text x="59.37" y="79.80" transform="matrix(1 0 0 1.04 0 -3.192)" fill="#ad2833">1</text><rect x="60.51" y="61.14" width="12.08" height="20.22" fill="#fff"/><path d="M763 0 L583 0 L583 1147 C540 1106 483 1064 413 1023 C342 982 279 951 223 930 L223 1104 C324 1151 412 1209 487 1276 C562 1343 615 1408 646 1466 L763 1466 Z" fill="#ad2833" transform="matrix(0.01196 0 0 -0.01196 59.37 79.80)"/></g>
<g font-size="24.5" fill="#4e8e98"><text x="943.00" y="748.31" transform="matrix(1 0 0 1.04 0 -29.932)">6</text><text x="943.00" y="537.24" transform="matrix(1 0 0 1.04 0 -21.490)">7</text><text x="943.00" y="326.17" transform="matrix(1 0 0 1.04 0 -13.047)">8</text><text x="943.00" y="115.10" transform="matrix(1 0 0 1.04 0 -4.604)">9</text></g>
<g fill="#111" font-size="29"><text x="389.00" y="914.60" transform="matrix(1 0 0 1.04 0 -36.584)">Spinflip time,</text><text x="565.20" y="914.90" transform="matrix(1 0 0 1.04 0 -36.596)" font-style="italic" font-size="29.8">T</text><text x="582.00" y="926.20" transform="matrix(1 0 0 1.04 0 -37.048)" font-size="17">p</text><text x="603.50" y="914.20" transform="matrix(1 0 0 1.0 0 -0.000)" font-size="27">[s]</text></g>
<g transform="translate(22.3,601) rotate(-90)" font-size="29" fill="#ad2833"><text x="0.00" y="0.00" transform="matrix(1 0 0 1.04 0 -0.000)">Relative Correlation Signal</text></g>
<g transform="translate(994.3,0) rotate(-90)" font-size="29" fill="#4e8e98"><text x="-585.00" y="0.00" transform="matrix(1 0 0 1.04 0 -0.000)">Kinetic energy,</text><text x="-385.00" y="0.00" transform="matrix(1 0 0 1.04 0 -0.000)" font-style="italic">E</text><text x="-366.00" y="9.50" transform="matrix(1 0 0 1.04 0 -0.380)" font-size="18">kin</text><text x="-337.00" y="0.00" transform="matrix(1 0 0 1.04 0 -0.000)">[</text><text x="-323.00" y="0.00" transform="matrix(1 0 0 1.04 0 -0.000)" font-style="italic">ħω</text><text x="-284.50" y="9.50" transform="matrix(1 0 0 1.04 0 -0.380)" font-size="17">r</text><text x="-274.00" y="0.00" transform="matrix(1 0 0 1.04 0 -0.000)">]</text></g>
</svg>
</body></html>
